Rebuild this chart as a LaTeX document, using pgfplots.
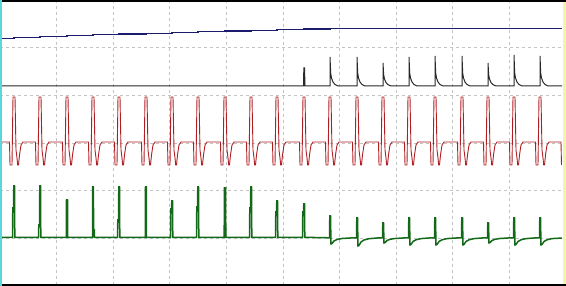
\documentclass[border=0pt]{standalone}
\usepackage{pgfplots}
\pgfplotsset{compat=1.18}
\definecolor{trblue}{RGB}{28,28,110}
\definecolor{trblack}{RGB}{40,40,40}
\definecolor{trred}{RGB}{175,30,35}
\definecolor{trgreen}{RGB}{20,105,25}
\definecolor{edgecyan}{RGB}{90,215,220}
\definecolor{edgeyellow}{RGB}{245,245,170}
\definecolor{gridgray}{RGB}{195,195,195}
\begin{document}
\begin{tikzpicture}
\begin{axis}[
  scale only axis, width=566pt, height=286pt,
  xmin=0, xmax=566, ymin=0, ymax=286, y dir=reverse,
  axis line style={draw=none},
  xtick={56.6,113.2,169.8,226.4,283,339.6,396.2,452.8,509.4},
  ytick={47.67,95.33,143,190.67,238.33},
  xticklabels={}, yticklabels={}, major tick length=0pt,
  grid=major, grid style={gridgray, line width=0.8pt, dash pattern=on 3pt off 3pt},
  clip=true,
]
% blue trace
\addplot[trblue, line width=1.2pt] coordinates {
(2,38.3)(14,38.3)(14,37.4)(40,37.4)(40,36.6)(67,36.6)(67,35.7)(93,35.7)(93,34.9)
(119,34.9)(119,34.0)(146,34.0)(146,33.2)(172,33.2)(172,32.3)(198,32.3)(198,31.6)
(225,31.6)(225,31.0)(251,31.0)(251,30.3)(277,30.3)(277,29.6)(304,29.6)(304,29.0)
(330,29.0)(330,28.3)(562,28.3)};
% black trace
\addplot[trblack, line width=1.0pt] coordinates {
(2,86)(303.6,86)(303.8,68)(304.6,68)(304.9,86)
(330,86)(330,57)(330.7,73)(331.5,78)(333,82)(335,84.5)(338,86)
(357,86)(357,57)(357.7,73)(358.5,78)(360,82)(362,84.5)(365,86)
(383,86)(383,63)(383.7,75)(384.5,79)(386,82.5)(388,84.7)(391,86)
(409,86)(409,57)(409.7,73)(410.5,78)(412,82)(414,84.5)(417,86)
(435,86)(435,56)(435.7,73)(436.5,78)(438,82)(440,84.5)(443,86)
(462,86)(462,56)(462.7,73)(463.5,78)(465,82)(467,84.5)(470,86)
(488,86)(488,63)(488.7,75)(489.5,79)(491,82.5)(493,84.7)(496,86)
(514,86)(514,55)(514.7,73)(515.5,78)(517,82)(519,84.5)(522,86)
(540,86)(540,56)(540.7,73)(541.5,78)(543,82)(545,84.5)(548,86)
(562,86)};
% red trace
\addplot[trred, line width=0.9pt] coordinates {
(2,142)
(9.5,142)(10,165)(12,165)(13,97)(15,97)(16,150)(17,158)(17.7,165)(18.5,165)(19.5,155)(21,145)(23,142)
(35.5,142)(36,165)(38,165)(39,97)(41,97)(42,150)(43,158)(43.7,165)(44.5,165)(45.5,155)(47,145)(49,142)
(62.5,142)(63,165)(65,165)(66,97)(68,97)(69,150)(70,158)(70.7,165)(71.5,165)(72.5,155)(74,145)(76,142)
(88.5,142)(89,165)(91,165)(92,97)(94,97)(95,150)(96,158)(96.7,165)(97.5,165)(98.5,155)(100,145)(102,142)
(114.5,142)(115,165)(117,165)(118,97)(120,97)(121,150)(122,158)(122.7,165)(123.5,165)(124.5,155)(126,145)(128,142)
(141.5,142)(142,165)(144,165)(145,97)(147,97)(148,150)(149,158)(149.7,165)(150.5,165)(151.5,155)(153,145)(155,142)
(167.5,142)(168,165)(170,165)(171,97)(173,97)(174,150)(175,158)(175.7,165)(176.5,165)(177.5,155)(179,145)(181,142)
(193.5,142)(194,165)(196,165)(197,97)(199,97)(200,150)(201,158)(201.7,165)(202.5,165)(203.5,155)(205,145)(207,142)
(220.5,142)(221,165)(223,165)(224,97)(226,97)(227,150)(228,158)(228.7,165)(229.5,165)(230.5,155)(232,145)(234,142)
(246.5,142)(247,165)(249,165)(250,97)(252,97)(253,150)(254,158)(254.7,165)(255.5,165)(256.5,155)(258,145)(260,142)
(272.5,142)(273,165)(275,165)(276,97)(278,97)(279,150)(280,158)(280.7,165)(281.5,165)(282.5,155)(284,145)(286,142)
(299.5,142)(300,165)(302,165)(303,97)(305,97)(306,150)(307,158)(307.7,165)(308.5,165)(309.5,155)(311,145)(313,142)
(325.5,142)(326,165)(328,165)(329,97)(331,97)(332,150)(333,158)(333.7,165)(334.5,165)(335.5,155)(337,145)(339,142)
(352.5,142)(353,165)(355,165)(356,97)(358,97)(359,150)(360,158)(360.7,165)(361.5,165)(362.5,155)(364,145)(366,142)
(378.5,142)(379,165)(381,165)(382,97)(384,97)(385,150)(386,158)(386.7,165)(387.5,165)(388.5,155)(390,145)(392,142)
(404.5,142)(405,165)(407,165)(408,97)(410,97)(411,150)(412,158)(412.7,165)(413.5,165)(414.5,155)(416,145)(418,142)
(430.5,142)(431,165)(433,165)(434,97)(436,97)(437,150)(438,158)(438.7,165)(439.5,165)(440.5,155)(442,145)(444,142)
(457.5,142)(458,165)(460,165)(461,97)(463,97)(464,150)(465,158)(465.7,165)(466.5,165)(467.5,155)(469,145)(471,142)
(483.5,142)(484,165)(486,165)(487,97)(489,97)(490,150)(491,158)(491.7,165)(492.5,165)(493.5,155)(495,145)(497,142)
(509.5,142)(510,165)(512,165)(513,97)(515,97)(516,150)(517,158)(517.7,165)(518.5,165)(519.5,155)(521,145)(523,142)
(535.5,142)(536,165)(538,165)(539,97)(541,97)(542,150)(543,158)(543.7,165)(544.5,165)(545.5,155)(547,145)(549,142)
(561,142)(561.5,165)};
% green trace
\addplot[trgreen, line width=1.5pt] coordinates {
(2,237.3)
(12.5,237.3)(12.8,208)(13.5,208)(13.8,186)(14.5,186)(14.8,237.3)
(38.5,237.3)(38.8,225)(39.5,225)(39.8,186)(40.5,186)(40.8,237.3)
(66.3,237.3)(66.5,200)(67.5,200)(67.7,237.3)
(92.5,237.3)(92.7,187)(93.4,187)(93.6,230)(94.3,230)(94.5,237.3)
(117.5,237.3)(117.8,220)(118.5,220)(118.8,187)(119.5,187)(119.8,237.3)
(145.3,237.3)(145.5,187)(146.3,187)(146.5,237.3)
(170.5,237.3)(170.8,209)(171.5,209)(171.8,201)(172.5,201)(172.8,237.3)
(196.5,237.3)(196.8,207)(197.5,207)(197.8,187)(198.5,187)(198.8,237.3)
(224.2,237.3)(224.4,188)(225.6,188)(225.8,237.3)
(249.5,237.3)(249.8,208)(250.5,208)(250.8,187)(251.5,187)(251.8,237.3)
(275.5,237.3)(275.8,212)(276.5,212)(276.8,201)(277.5,201)(277.8,237.3)
(302.5,237.3)(302.8,212)(303.5,212)(303.8,204)(304.5,204)(304.8,237.3)
(329.5,237.8)(329.8,216)(330.5,216)(331,244)(332,243.5)(334,241)(337,239.5)(342,238.5)(350,238)
(356.5,238)(356.8,218)(357.5,218)(358,246)(359,245.5)(361,242)(364,240)(369,238.7)(377,238)
(382.5,238)(382.8,223)(383.5,223)(384,243)(385,242.5)(387,240.5)(390,239.3)(395,238.5)(403,238)
(408.5,238)(408.8,218)(409.5,218)(410,245)(411,244.5)(413,241.5)(416,239.8)(421,238.6)(429,238)
(434.5,238)(434.8,218)(435.5,218)(436,245)(437,244.5)(439,241.5)(442,239.8)(447,238.6)(456,238)
(461.5,238)(461.8,218)(462.5,218)(463,245)(464,244.5)(466,241.5)(469,239.8)(474,238.6)(482,238)
(487.5,238)(487.8,223)(488.5,223)(489,243)(490,242.5)(492,240.5)(495,239.3)(500,238.5)(508,238)
(513.5,238)(513.8,218)(514.5,218)(515,245)(516,244.5)(518,241.5)(521,239.8)(526,238.6)(534,238)
(539.5,238)(539.8,218)(540.5,218)(541,245)(542,244.5)(544,241.5)(547,239.8)(552,238.6)(562,238)};
% frame edges
\fill[black] (axis cs:0,0) rectangle (axis cs:566,1.6);
\fill[black] (axis cs:0,284.4) rectangle (axis cs:566,286);
\fill[edgecyan] (axis cs:0,0) rectangle (axis cs:2,286);
\fill[edgeyellow] (axis cs:563,1.6) rectangle (axis cs:566,284.4);
\coordinate (sw) at (rel axis cs:0,0);
\coordinate (ne) at (rel axis cs:1,1);
\end{axis}
\pgfresetboundingbox
\useasboundingbox (sw) rectangle (ne);
\end{tikzpicture}
\end{document}
